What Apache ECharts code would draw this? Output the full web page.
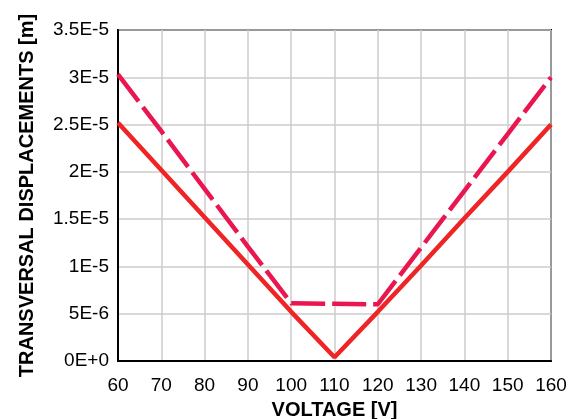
<!DOCTYPE html>
<html>
<head>
<meta charset="utf-8">
<script src="https://cdn.jsdelivr.net/npm/echarts@6/dist/echarts.min.js"></script>
<style>html,body{margin:0;padding:0;background:#fff;}#c{width:577px;height:419px;}</style>
</head>
<body>
<div id="c"></div>
<script>
var voltage = [60, 70, 80, 90, 100, 110, 120, 130, 140, 150, 160];
var solidValues = [2.52e-5, 2.02e-5, 1.52e-5, 1.02e-5, 5.2e-6, 4e-7, 5.2e-6, 1.01e-5, 1.51e-5, 2.0e-5, 2.5e-5];
var dashedVoltage = [60, 70, 80, 90, 100, 110, 120, 130, 140, 150, 160];
var dashedValues = [3.03e-5, 2.43e-5, 1.82e-5, 1.21e-5, 6.1e-6, 6.05e-6, 6.0e-6, 1.2e-5, 1.8e-5, 2.4e-5, 3.0e-5];
var yTickLabels = ['0E+0', '5E-6', '1E-5', '1.5E-5', '2E-5', '2.5E-5', '3E-5', '3.5E-5'];

var chart = echarts.init(document.getElementById('c'), null, {renderer: 'canvas'});
var font = 'Liberation Sans, Arial, sans-serif';
chart.setOption({
  animation: false,
  grid: {left: 118, top: 30, right: 26, bottom: 58, show: true, borderColor: '#000', borderWidth: 2,
    containLabel: false, outerBoundsMode: 'none'},
  xAxis: {
    type: 'value', min: 60, max: 160, interval: 10,
    name: 'VOLTAGE [V]', nameLocation: 'middle', nameGap: 39,
    nameTextStyle: {fontFamily: font, fontWeight: 'bold', fontSize: 20, color: '#000'},
    axisLine: {show: true, lineStyle: {color: '#000', width: 2}},
    axisTick: {show: false},
    axisLabel: {fontFamily: font, fontSize: 19, color: '#000', margin: 15},
    splitLine: {show: true, lineStyle: {color: '#cccccc', width: 1.5}}
  },
  yAxis: {
    type: 'value', min: 0, max: 3.5e-5, interval: 5e-6,
    name: 'TRANSVERSAL DISPLACEMENTS [m]', nameLocation: 'middle', nameGap: 81, nameRotate: 90,
    nameTextStyle: {fontFamily: font, fontWeight: 'bold', fontSize: 20, color: '#000'},
    axisLine: {show: true, lineStyle: {color: '#000', width: 2}},
    axisTick: {show: false},
    axisLabel: {fontFamily: font, fontSize: 19, color: '#000', margin: 9,
      formatter: function (v) { return yTickLabels[Math.round(v / 5e-6)]; }},
    splitLine: {show: true, lineStyle: {color: '#cccccc', width: 1.5}}
  },
  series: [
    {
      type: 'line', symbol: 'none', z: 3,
      data: voltage.map(function (x, i) { return [x, solidValues[i]]; }),
      lineStyle: {color: '#ee2426', width: 4.5}
    },
    {
      type: 'line', symbol: 'none', z: 4,
      data: dashedVoltage.map(function (x, i) { return [x, dashedValues[i]]; }),
      lineStyle: {color: '#e9164f', width: 4.5, type: [34, 7]}
    }
  ]
});
</script>
</body>
</html>
